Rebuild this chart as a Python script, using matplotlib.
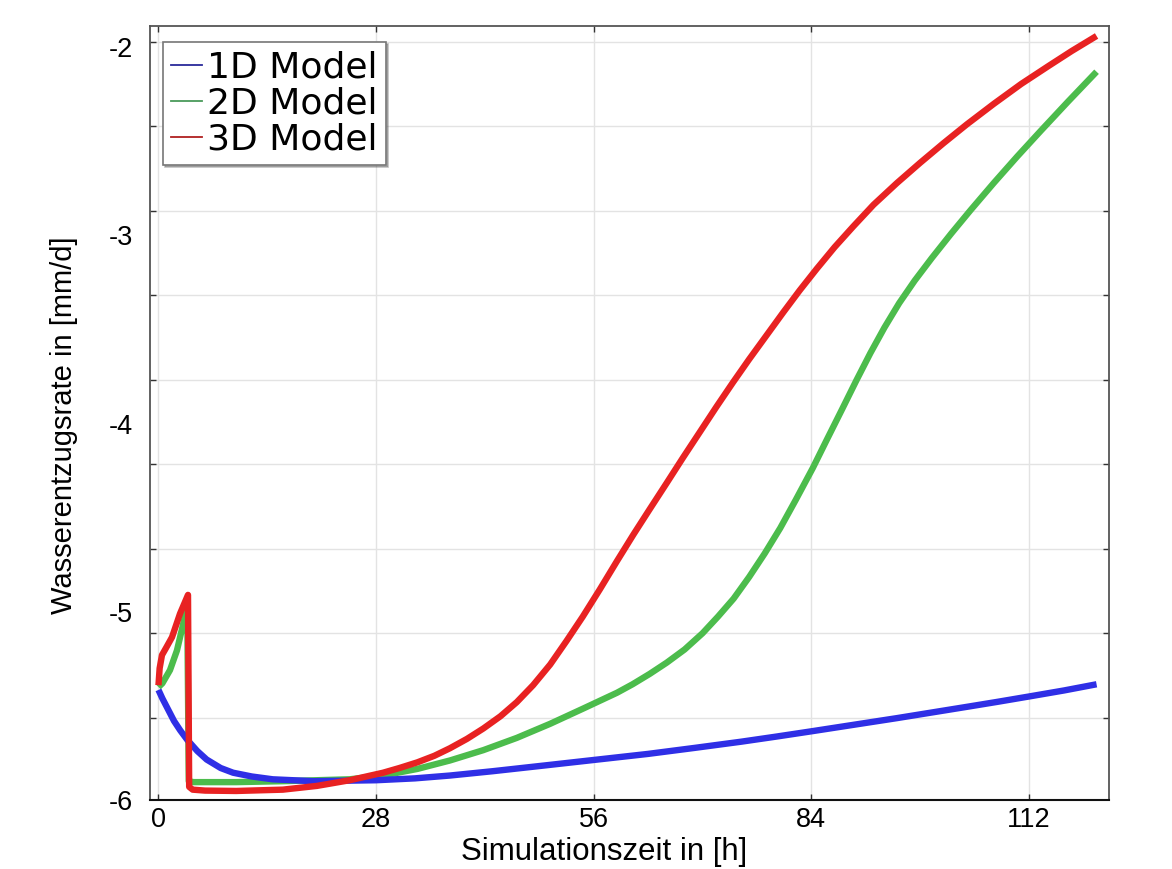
import matplotlib
matplotlib.use('Agg')
import matplotlib.pyplot as plt
from matplotlib.lines import Line2D

# ---------------- data ----------------
series_names = ['1D Model', '2D Model', '3D Model']

t_1d = [0, 0.5, 1, 1.5, 2, 2.8, 3.7, 5, 6.2, 8, 9.6, 12, 14.7, 20, 28, 33, 37.5, 43,
        50, 56.5, 63, 69, 75, 79.5, 84, 89.5, 95, 99.5, 104, 108, 112, 116.5, 120.7]
q_1d = [-5.415, -5.46, -5.50, -5.54, -5.58, -5.63, -5.68, -5.74, -5.785, -5.83, -5.855,
        -5.875, -5.89, -5.90, -5.895, -5.885, -5.87, -5.847, -5.815, -5.785, -5.755,
        -5.723, -5.69, -5.663, -5.635, -5.60, -5.565, -5.535, -5.505, -5.478, -5.45,
        -5.418, -5.385]

t_2d = [0, 0.5, 1.48, 2.38, 3.15, 3.7, 3.9, 4.5, 10, 16, 24.6, 28.9, 33.3, 37.5, 41.8,
        46.1, 50.4, 54.6, 59.0, 61.0, 63.2, 65.4, 67.7, 70.0, 72, 74, 76, 78, 80, 82,
        84.2, 86, 88, 89.8, 91.6, 93.4, 95.3, 97.3, 99.5, 102, 104.5, 107.5, 110.5,
        113.5, 117, 120.7]
q_2d = [-5.40, -5.38, -5.31, -5.205, -5.07, -4.97, -5.90, -5.905, -5.905, -5.90, -5.89,
        -5.87, -5.835, -5.79, -5.735, -5.67, -5.595, -5.515, -5.43, -5.385, -5.33,
        -5.27, -5.20, -5.114, -5.025, -4.93, -4.815, -4.69, -4.555, -4.405, -4.235,
        -4.085, -3.92, -3.77, -3.625, -3.49, -3.36, -3.24, -3.12, -2.99, -2.865, -2.72,
        -2.58, -2.445, -2.29, -2.13]

t_3d = [0, 0.15, 0.45, 1.0, 1.74, 2.77, 3.8, 3.95, 4.4, 6, 10, 16, 20.4, 24.6, 28.9,
        31.0, 33.3, 35.5, 37.5, 39.7, 41.8, 44.0, 46.1, 48.2, 50.4, 52.5, 54.6, 56.8,
        59.0, 61.1, 63.2, 65.4, 67.5, 69.7, 71.8, 73.9, 76.0, 78.2, 80.4, 82.5, 84.7,
        87.0, 89.4, 92.0, 95.0, 98.0, 101.0, 104.0, 107.5, 111.0, 114.5, 117.5, 120.7]
q_3d = [-5.39, -5.30, -5.23, -5.19, -5.135, -5.01, -4.91, -5.93, -5.945, -5.95, -5.952,
        -5.945, -5.925, -5.895, -5.855, -5.83, -5.80, -5.765, -5.725, -5.675, -5.62,
        -5.555, -5.48, -5.39, -5.28, -5.155, -5.025, -4.88, -4.73, -4.59, -4.455,
        -4.315, -4.18, -4.042, -3.91, -3.782, -3.658, -3.533, -3.408, -3.292, -3.177,
        -3.062, -2.952, -2.837, -2.722, -2.614, -2.51, -2.41, -2.30, -2.195, -2.10,
        -2.02, -1.94]

x_ticks = [0, 28, 56, 84, 112]
y_tick_values = [-2, -3, -4, -5, -6]
y_tick_labels = ['-2', '-3', '-4', '-5', '-6']
y_grid = [-1.971, -2.42, -2.869, -3.318, -3.767, -4.216, -4.665, -5.114, -5.563]

colors = ['#2f2fe6', '#4cbc4c', '#e82222']
legend_colors = ['#2a2a9a', '#4a9a5a', '#b02020']

# ---------------- figure ----------------
W, H = 1172, 869
fig = plt.figure(figsize=(W / 100, H / 100), dpi=100)
ax = fig.add_axes([150 / W, 1 - 800 / H, (1109 - 150) / W, (800 - 26) / H])

lw = 4.6
kw = dict(lw=lw, solid_joinstyle='round', solid_capstyle='butt')
ax.plot(t_2d, q_2d, color=colors[1], zorder=3, **kw)
ax.plot(t_1d, q_1d, color=colors[0], zorder=4, **kw)
ax.plot(t_3d, q_3d, color=colors[2], zorder=5, **kw)

ax.set_xlim(-1.09, 122.3)
ax.set_ylim(-5.982, -1.887)

tick_font = 'Liberation Sans'
ax.set_xticks(x_ticks)
ax.set_xticklabels([str(v) for v in x_ticks], fontsize=19.5, fontname=tick_font)
ax.set_yticks(y_grid)
ax.set_yticklabels([''] * len(y_grid))
ax.set_yticks(y_tick_values, minor=True)
ax.set_yticklabels(y_tick_labels, minor=True, fontsize=19.5, fontname=tick_font)

ax.tick_params(axis='both', which='major', direction='in', length=4, width=1,
               top=True, right=True, color='#333333')
ax.tick_params(axis='x', which='major', pad=5)
ax.tick_params(axis='y', which='minor', length=0, pad=12, left=True, right=False)
ax.tick_params(axis='x', which='minor', length=0)

ax.grid(True, which='major', color='#e3e3e3', lw=1)
ax.set_axisbelow(True)

for side in ['top', 'right', 'left']:
    ax.spines[side].set_color('#555555')
    ax.spines[side].set_linewidth(1.3)
ax.spines['bottom'].set_color('#111111')
ax.spines['bottom'].set_linewidth(1.5)

ax.set_xlabel('Simulationszeit in [h]', fontsize=22.5, fontname=tick_font)
ax.xaxis.set_label_coords((604 - 150) / 959, (800 - 837) / 774)
ax.set_ylabel('Wasserentzugsrate in [mm/d]', fontsize=21, fontname=tick_font)
ax.yaxis.set_label_coords((78 - 150) / 959, (800 - 425) / 774)

handles = [Line2D([], [], color=c, lw=1.3) for c in legend_colors]
leg = ax.legend(handles, series_names, loc='upper left',
                bbox_to_anchor=((163 - 150) / 959, (800 - 42) / 774),
                borderaxespad=0, prop={'family': 'DejaVu Sans', 'size': 26},
                handlelength=0.85, handletextpad=0.14, labelspacing=0.06,
                borderpad=0.23, fancybox=False,
                shadow={'ox': 1.5, 'oy': -1.5, 'alpha': 0.35},
                framealpha=1, edgecolor='#777777')
leg.get_frame().set_linewidth(1.2)
leg.set_zorder(10)

fig.savefig('out.png', dpi=100, facecolor='white')
